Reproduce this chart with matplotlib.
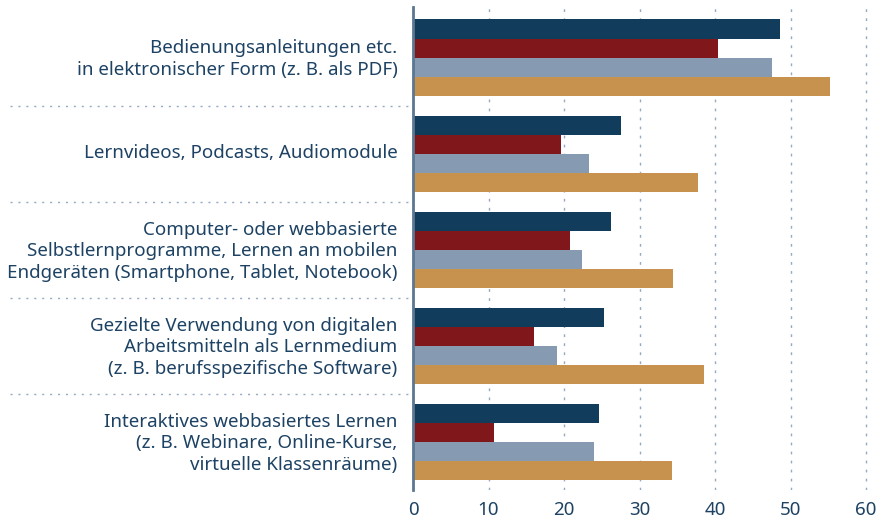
import matplotlib
matplotlib.use('Agg')
from matplotlib import pyplot as plt
from matplotlib import transforms
import numpy as np

categories = [
    "Bedienungsanleitungen etc.\nin elektronischer Form (z. B. als PDF)",
    "Lernvideos, Podcasts, Audiomodule",
    "Computer- oder webbasierte\nSelbstlernprogramme, Lernen an mobilen\nEndgeräten (Smartphone, Tablet, Notebook)",
    "Gezielte Verwendung von digitalen\nArbeitsmitteln als Lernmedium\n(z. B. berufsspezifische Software)",
    "Interaktives webbasiertes Lernen\n(z. B. Webinare, Online-Kurse,\nvirtuelle Klassenräume)",
]
series_navy = [48.6, 27.5, 26.2, 25.3, 24.6]
series_red = [40.4, 19.6, 20.8, 16.0, 10.7]
series_grey = [47.5, 23.3, 22.4, 19.1, 24.0]
series_gold = [55.2, 37.7, 34.4, 38.5, 34.3]
x_ticks = [0, 10, 20, 30, 40, 50, 60]

colors = ["#123c5c", "#80181b", "#869bb2", "#c6924e"]
text_color = "#1d4263"
grid_color = "#95aac0"

plt.rcParams['font.family'] = ['Noto Sans', 'DejaVu Sans']

fig = plt.figure(figsize=(8.84, 5.2), dpi=100)
ax = fig.add_axes([413 / 884, 1 - 490 / 520, 455 / 884, 483 / 520])

y = np.arange(len(categories))
h = 0.2
all_series = [series_navy, series_red, series_grey, series_gold]
for k, vals in enumerate(all_series):
    ax.barh(y + (k - 1.5) * h, vals, height=h, color=colors[k], zorder=2)

ax.set_xlim(0, 60.25)
ax.set_ylim(4.5, -0.53)
ax.set_xticks(x_ticks)
ax.set_xticklabels([str(t) for t in x_ticks], fontsize=13.5, color=text_color)
ax.tick_params(axis='x', length=0, pad=8)
ax.set_yticks(y)
ax.set_yticklabels(categories, fontsize=13.5, color=text_color, linespacing=1.25)
ax.tick_params(axis='y', length=0, pad=11)

# nudge the category labels up a little
shift = transforms.ScaledTranslation(0, 2.5 / 100, fig.dpi_scale_trans)
for lbl in ax.get_yticklabels():
    lbl.set_transform(lbl.get_transform() + shift)

for s in ['top', 'right', 'bottom']:
    ax.spines[s].set_visible(False)
ax.spines['left'].set_color('#5b7791')
ax.spines['left'].set_linewidth(2)
ax.spines['left'].set_zorder(3)

ax.xaxis.grid(True, color=grid_color, linewidth=1, dashes=(2.0, 4.5), zorder=1)
ax.set_axisbelow(True)

# dotted separators in the label area
trans = transforms.blended_transform_factory(ax.transAxes, ax.transData)
for sep in y[:-1] + 0.5:
    ax.plot([-403 / 455, 0], [sep, sep], transform=trans, color=grid_color,
            linewidth=1, dashes=(1.5, 4.2), clip_on=False)

fig.savefig("out.png", dpi=100)
plt.close()
